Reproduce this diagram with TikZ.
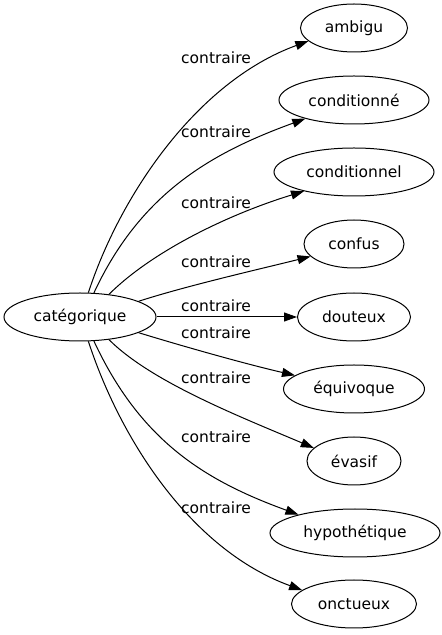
\documentclass[tikz,border=0pt]{standalone}
\usepackage{fontspec}
\setmainfont{DejaVu Sans}
\usetikzlibrary{shapes.geometric,arrows.meta}
\tikzset{
  word/.style={draw, ellipse, line width=1pt, inner sep=0pt, minimum height=48pt, font=\fontsize{15.5}{18}\selectfont},
  lbl/.style={inner sep=0pt, font=\fontsize{15.5}{18}\selectfont},
  rel/.style={line width=1pt, -{Triangle[length=13pt,width=9pt]}}
}
\begin{document}
\begin{tikzpicture}[x=1pt,y=1pt]
\useasboundingbox (0,0) rectangle (442,635);
\node[word, minimum width=152pt] (cat) at (80,318) {catégorique};
\node[word, minimum width=107pt] (amb) at (354,607) {ambigu};
\node[word, minimum width=150pt] (cnda) at (354,535) {conditionné};
\node[word, minimum width=160pt] (cndb) at (354,463) {conditionnel};
\node[word, minimum width=100pt] (cfs) at (354,391) {confus};
\node[word, minimum width=113pt] (dtx) at (354,318) {douteux};
\node[word, minimum width=141pt] (eqv) at (354,246) {équivoque};
\node[word, minimum width=94pt] (evs) at (354,174) {évasif};
\node[word, minimum width=170pt] (hyp) at (355,102) {hypothétique};
\node[word, minimum width=125pt] (onc) at (354,31) {onctueux};
\node[lbl] (l1) at (216,577) {contraire};
\node[lbl] (l2) at (216,503) {contraire};
\node[lbl] (l3) at (216,432) {contraire};
\node[lbl] (l4) at (216,373) {contraire};
\node[lbl] (l5) at (216,329) {contraire};
\node[lbl] (l6) at (216,302) {contraire};
\node[lbl] (l7) at (216,257) {contraire};
\node[lbl] (l8) at (216,198) {contraire};
\node[lbl] (l9) at (216,127) {contraire};
\draw[rel] (cat.71) .. controls +(72:100) and +(200:120) .. (amb.196);
\draw[rel] (cat.60) .. controls +(65:110) and +(200:100) .. (cnda.201);
\draw[rel] (cat.38) .. controls +(45:60) and +(197:80) .. (cndb.201);
\draw[rel] (cat.15) .. controls +(18:50) and +(194:50) .. (cfs.196);
\draw[rel] (cat.east) -- (dtx.west);
\draw[rel] (cat.-15) .. controls +(-17:50) and +(167:50) .. (eqv.167);
\draw[rel] (cat.-38) .. controls +(-45:60) and +(157:80) .. (evs.162);
\draw[rel] (cat.-60) .. controls +(-65:110) and +(160:100) .. (hyp.162);
\draw[rel] (cat.-71) .. controls +(-72:100) and +(160:120) .. (onc.165);
\end{tikzpicture}
\end{document}
